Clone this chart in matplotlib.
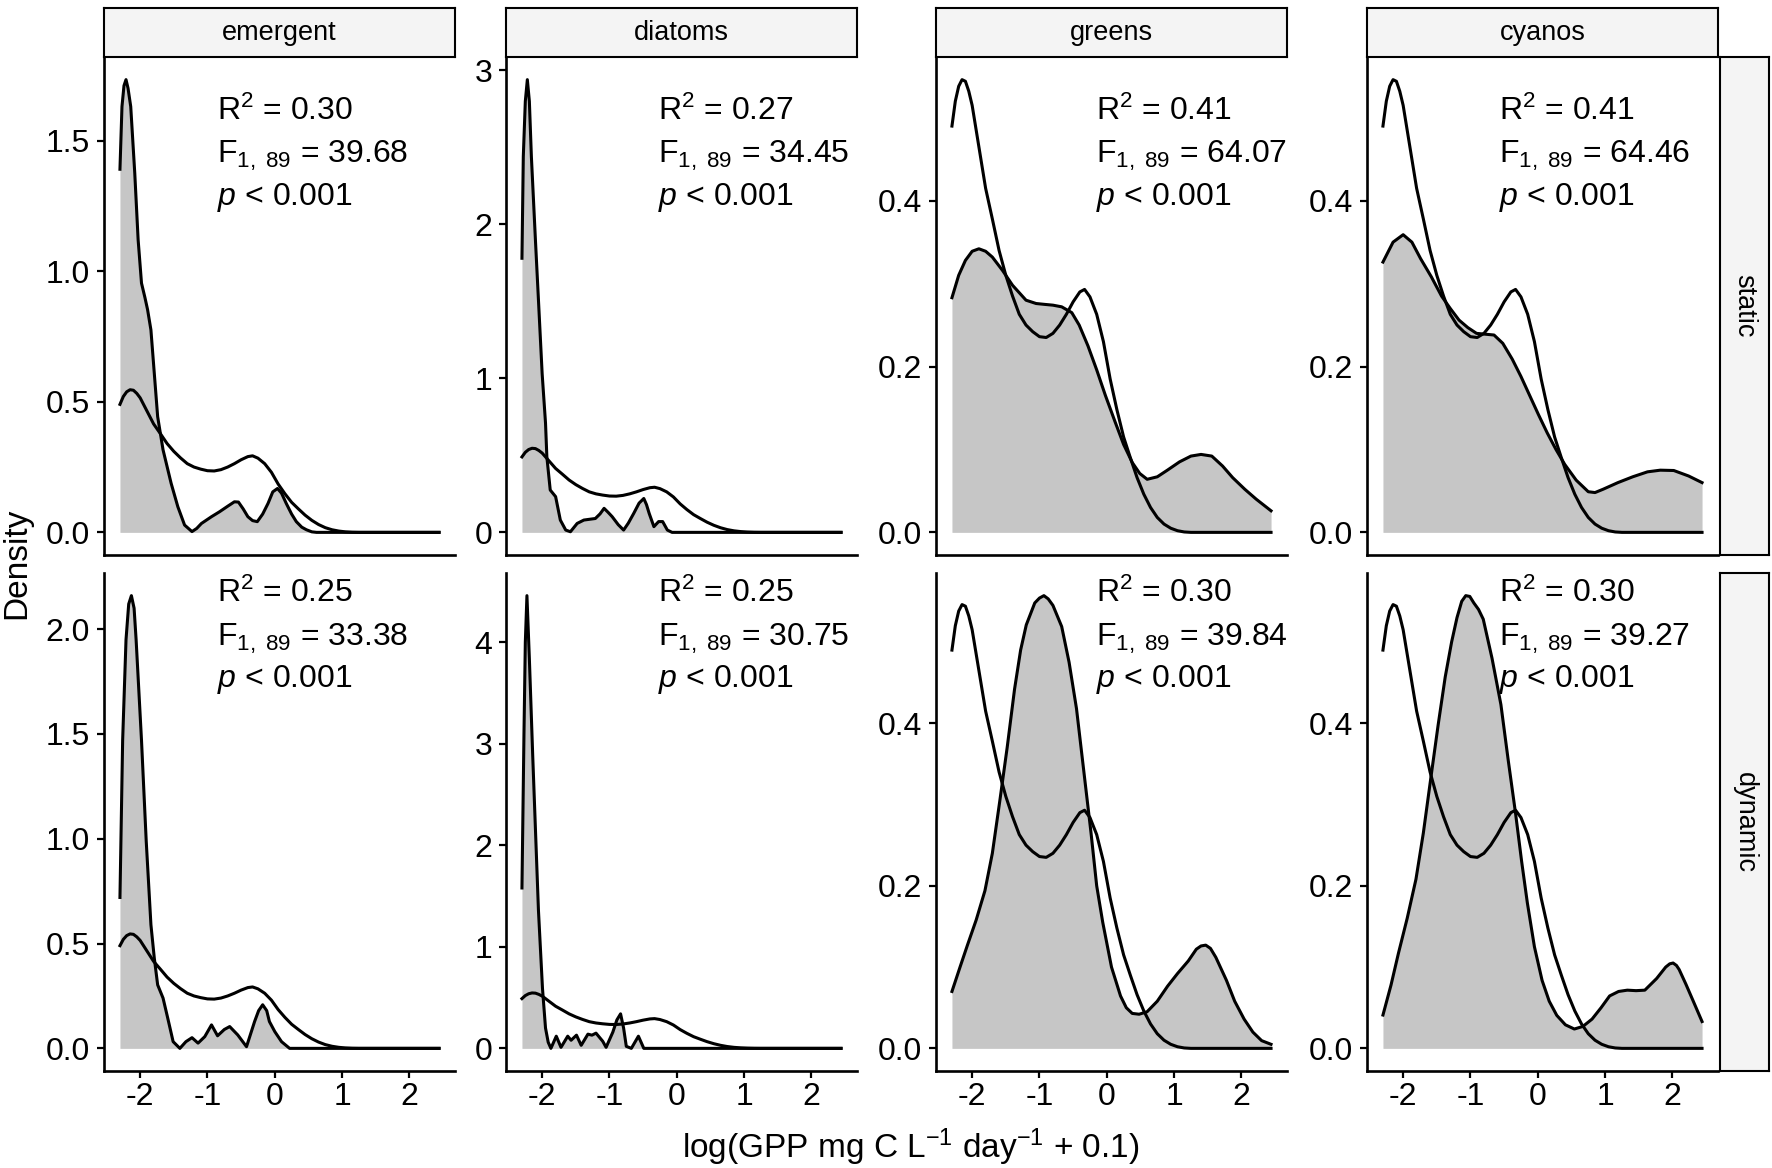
import matplotlib.pyplot as plt

plt.rcParams['font.family'] = ['Liberation Sans', 'DejaVu Sans']
plt.rcParams['mathtext.fontset'] = 'custom'
plt.rcParams['mathtext.rm'] = 'Liberation Sans'
plt.rcParams['mathtext.it'] = 'Liberation Sans:italic'
plt.rcParams['axes.unicode_minus'] = False

groups = ["emergent", "diatoms", "greens", "cyanos"]
models = ["static", "dynamic"]

# observed density (outline), the same in every panel
obs_x = [-2.30, -2.25, -2.20, -2.15, -2.10, -2.05, -2.00, -1.90, -1.80, -1.70, -1.60, -1.50,
         -1.40, -1.30, -1.20, -1.10, -1.00, -0.90, -0.80, -0.70, -0.60, -0.50, -0.40, -0.33,
         -0.25, -0.15, -0.05, 0.05, 0.15, 0.25, 0.35, 0.45, 0.55, 0.65, 0.75, 0.85, 0.95,
         1.05, 1.15, 1.25, 2.44]
obs_y = [0.490, 0.520, 0.538, 0.546, 0.544, 0.532, 0.515, 0.465, 0.415, 0.378, 0.340, 0.310,
         0.285, 0.263, 0.250, 0.242, 0.236, 0.235, 0.240, 0.250, 0.263, 0.278, 0.290, 0.293,
         0.284, 0.263, 0.230, 0.185, 0.148, 0.115, 0.090, 0.066, 0.046, 0.030, 0.018, 0.010, 0.005,
         0.002, 0.0005, 0.0, 0.0]

# predicted densities (grey fill)
emergent_static_x = [-2.30, -2.27, -2.24, -2.21, -2.18, -2.14, -2.08, -2.03, -1.98, -1.93, -1.89,
                     -1.84, -1.79, -1.74, -1.66, -1.54, -1.44, -1.34, -1.23, -1.16, -1.09, -0.94,
                     -0.82, -0.70, -0.60, -0.54, -0.47, -0.40, -0.33, -0.26, -0.18, -0.10, -0.03,
                     0.04, 0.10, 0.17, 0.25, 0.32, 0.40, 0.47, 0.55, 0.62, 2.44]
emergent_static_y = [1.39, 1.63, 1.71, 1.733, 1.70, 1.63, 1.375, 1.12, 0.954, 0.90, 0.853,
                     0.775, 0.609, 0.443, 0.316, 0.188, 0.098, 0.028, 0.003, 0.015, 0.034, 0.060,
                     0.079, 0.100, 0.117, 0.116, 0.090, 0.060, 0.045, 0.041, 0.070, 0.111, 0.155,
                     0.168, 0.150, 0.111, 0.070, 0.041, 0.020, 0.010, 0.002, 0.0, 0.0]

diatoms_static_x = [-2.30, -2.28, -2.25, -2.22, -2.19, -2.16, -2.10, -2.05, -2.00, -1.95, -1.93,
                    -1.88, -1.80, -1.73, -1.65, -1.58, -1.48, -1.38, -1.21, -1.14, -1.08, -1.02,
                    -0.96, -0.87, -0.79, -0.72, -0.64, -0.56, -0.49, -0.45, -0.41, -0.34, -0.27,
                    -0.21, -0.14, -0.07, 2.44]
diatoms_static_y = [1.78, 2.44, 2.80, 2.94, 2.80, 2.44, 1.90, 1.466, 1.03, 0.71, 0.49,
                    0.275, 0.232, 0.080, 0.015, 0.004, 0.058, 0.080, 0.090, 0.120, 0.156, 0.130,
                    0.102, 0.050, 0.015, 0.060, 0.123, 0.190, 0.220, 0.180, 0.123, 0.037, 0.070,
                    0.070, 0.015, 0.0, 0.0]

greens_static_x = [-2.30, -2.20, -2.10, -2.00, -1.90, -1.80, -1.70, -1.55, -1.40, -1.20, -1.05,
                   -0.93, -0.80, -0.67, -0.52, -0.41, -0.28, -0.15, -0.02, 0.12, 0.25, 0.38, 0.49,
                   0.60, 0.75, 0.90, 1.08, 1.25, 1.40, 1.56, 1.72, 1.87, 2.05, 2.22, 2.44]
greens_static_y = [0.283, 0.310, 0.328, 0.339, 0.342, 0.339, 0.332, 0.316, 0.298, 0.280, 0.276,
                   0.275, 0.274, 0.272, 0.265, 0.250, 0.225, 0.196, 0.165, 0.134, 0.106, 0.084, 0.071,
                   0.064, 0.067, 0.075, 0.085, 0.092, 0.094, 0.092, 0.080, 0.066, 0.052, 0.040, 0.026]

cyanos_static_x = [-2.30, -2.15, -2.00, -1.87, -1.74, -1.58, -1.43, -1.30, -1.17, -1.04, -0.91,
                   -0.78, -0.65, -0.52, -0.38, -0.25, -0.12, 0.01, 0.14, 0.27, 0.40, 0.57, 0.75,
                   0.85, 0.97, 1.19, 1.41, 1.63, 1.82, 2.02, 2.24, 2.44]
cyanos_static_y = [0.326, 0.350, 0.359, 0.350, 0.330, 0.308, 0.285, 0.270, 0.256, 0.247, 0.240,
                   0.239, 0.238, 0.228, 0.209, 0.188, 0.165, 0.142, 0.120, 0.100, 0.082, 0.063, 0.049,
                   0.048, 0.052, 0.060, 0.067, 0.073, 0.075, 0.0746, 0.068, 0.060]

emergent_dynamic_x = [-2.30, -2.26, -2.21, -2.17, -2.13, -2.09, -2.06, -1.98, -1.91, -1.84, -1.79,
                      -1.74, -1.66, -1.59, -1.51, -1.41, -1.32, -1.23, -1.14, -1.04, -0.94, -0.85,
                      -0.75, -0.67, -0.55, -0.42, -0.30, -0.24, -0.18, -0.12, -0.08, 0.00, 0.10,
                      0.22, 2.44]
emergent_dynamic_y = [0.72, 1.47, 1.95, 2.12, 2.16, 2.10, 1.95, 1.47, 0.99, 0.59, 0.431,
                      0.303, 0.240, 0.144, 0.032, 0.0, 0.032, 0.051, 0.025, 0.056, 0.112, 0.060,
                      0.090, 0.104, 0.064, 0.008, 0.128, 0.180, 0.208, 0.180, 0.128, 0.080, 0.032,
                      0.0, 0.0]

diatoms_dynamic_x = [-2.30, -2.27, -2.25, -2.226, -2.19, -2.14, -2.055, -1.995, -1.95, -1.91,
                     -1.87, -1.79, -1.72, -1.62, -1.57, -1.49, -1.42, -1.32, -1.26, -1.20, -1.10,
                     -1.05, -0.95, -0.89, -0.835, -0.79, -0.75, -0.675, -0.57, -0.49, 2.44]
diatoms_dynamic_y = [1.58, 3.10, 4.00, 4.46, 3.84, 2.88, 1.36, 0.59, 0.20, 0.06,
                     0.0, 0.12, 0.01, 0.12, 0.08, 0.13, 0.03, 0.14, 0.13, 0.15, 0.07,
                     0.01, 0.16, 0.28, 0.34, 0.20, 0.02, 0.0, 0.12, 0.0, 0.0]

greens_dynamic_x = [-2.30, -2.18, -2.07, -1.94, -1.81, -1.70, -1.59, -1.48, -1.37, -1.28, -1.196,
                    -1.07, -1.00, -0.934, -0.87, -0.80, -0.67, -0.56, -0.45, -0.34, -0.234, -0.15,
                    -0.06, 0.07, 0.204, 0.29, 0.378, 0.48, 0.598, 0.75, 0.903, 1.05, 1.21, 1.33,
                    1.40, 1.47, 1.54, 1.62, 1.778, 1.90, 2.04, 2.17, 2.30, 2.44]
greens_dynamic_y = [0.070, 0.100, 0.127, 0.158, 0.194, 0.240, 0.304, 0.370, 0.442, 0.490, 0.521,
                    0.548, 0.554, 0.557, 0.553, 0.545, 0.519, 0.475, 0.418, 0.340, 0.265, 0.200,
                    0.155, 0.100, 0.0645, 0.050, 0.043, 0.042, 0.045, 0.058, 0.0765, 0.092, 0.1075, 0.122,
                    0.126, 0.127, 0.123, 0.112, 0.0836, 0.058, 0.036, 0.020, 0.0095, 0.005]

cyanos_dynamic_x = [-2.30, -2.18, -2.07, -1.94, -1.81, -1.70, -1.59, -1.48, -1.375, -1.28, -1.20,
                    -1.13, -1.07, -1.01, -0.95, -0.88, -0.81, -0.68, -0.548, -0.44, -0.33, -0.24,
                    -0.155, -0.05, 0.064, 0.17, 0.282, 0.41, 0.543, 0.67, 0.806, 0.94, 1.067, 1.20,
                    1.33, 1.46, 1.59, 1.766, 1.90, 1.96, 2.01, 2.06, 2.10, 2.20, 2.31, 2.44]
cyanos_dynamic_y = [0.041, 0.078, 0.117, 0.160, 0.208, 0.265, 0.332, 0.398, 0.457, 0.500, 0.530,
                    0.550, 0.557, 0.556, 0.548, 0.540, 0.528, 0.480, 0.423, 0.355, 0.289, 0.230,
                    0.179, 0.125, 0.0836, 0.058, 0.0406, 0.029, 0.0238, 0.027, 0.036, 0.050, 0.0645, 0.070,
                    0.0716, 0.071, 0.0716, 0.086, 0.100, 0.104, 0.105, 0.102, 0.097, 0.079, 0.058, 0.033]

pred_x = [[emergent_static_x, diatoms_static_x, greens_static_x, cyanos_static_x],
          [emergent_dynamic_x, diatoms_dynamic_x, greens_dynamic_x, cyanos_dynamic_x]]
pred_y = [[emergent_static_y, diatoms_static_y, greens_static_y, cyanos_static_y],
          [emergent_dynamic_y, diatoms_dynamic_y, greens_dynamic_y, cyanos_dynamic_y]]

r2_values = [["0.30", "0.27", "0.41", "0.41"],
             ["0.25", "0.25", "0.30", "0.30"]]
f_values = [["39.68", "34.45", "64.07", "64.46"],
            ["33.38", "30.75", "39.84", "39.27"]]

x_ticks = [-2, -1, 0, 1, 2]
x_tick_labels = ["-2", "-1", "0", "1", "2"]
y_ticks = [[[0, 0.5, 1.0, 1.5], [0, 1, 2, 3], [0, 0.2, 0.4], [0, 0.2, 0.4]],
           [[0, 0.5, 1.0, 1.5, 2.0], [0, 1, 2, 3, 4], [0, 0.2, 0.4], [0, 0.2, 0.4]]]
y_tick_labels = [[["0.0", "0.5", "1.0", "1.5"], ["0", "1", "2", "3"], ["0.0", "0.2", "0.4"], ["0.0", "0.2", "0.4"]],
                 [["0.0", "0.5", "1.0", "1.5", "2.0"], ["0", "1", "2", "3", "4"], ["0.0", "0.2", "0.4"], ["0.0", "0.2", "0.4"]]]

W, H = 1772, 1168
col_left = [104, 506, 936, 1367]
panel_w = 351
row_top = [57, 573]
panel_h = 498
strip_h = 49
text_x = [0.321, 0.432, 0.457, 0.377]
text_y = [[0.873, 0.787, 0.702], [0.941, 0.854, 0.771]]

fill_col = "#c6c6c6"
strip_col = "#f4f4f4"
lw = 2.2
fs_tick = 23
fs_note = 23
fs_lab = 24
fs_strip = 19.5

fig = plt.figure(figsize=(W / 100, H / 100), dpi=100)

for r in range(2):
    for c in range(4):
        ax = fig.add_axes([col_left[c] / W, 1 - (row_top[r] + panel_h) / H, panel_w / W, panel_h / H])
        px = pred_x[r][c]
        py = pred_y[r][c]
        ax.fill_between(px, 0, py, color=fill_col, linewidth=0)
        ax.plot(px, py, color="black", linewidth=lw, solid_joinstyle="round")
        ax.plot(obs_x, obs_y, color="black", linewidth=lw, solid_joinstyle="round")

        xmin = min(min(px), min(obs_x))
        xmax = max(max(px), max(obs_x))
        top = max(max(py), max(obs_y))
        ax.set_xlim(xmin - 0.05 * (xmax - xmin), xmax + 0.05 * (xmax - xmin))
        ax.set_ylim(-0.05 * top, 1.05 * top)

        ax.set_xticks(x_ticks)
        ax.set_xticklabels(x_tick_labels)
        ax.set_yticks(y_ticks[r][c])
        ax.set_yticklabels(y_tick_labels[r][c])
        ax.tick_params(labelsize=fs_tick, length=5, width=1.6, color="black", labelcolor="black")
        ax.tick_params(axis="x", pad=3)
        ax.tick_params(axis="y", pad=5)
        if r == 0:
            ax.tick_params(axis="x", bottom=False, labelbottom=False)
        ax.spines["top"].set_visible(False)
        ax.spines["right"].set_visible(False)
        ax.spines["left"].set_linewidth(1.9)
        ax.spines["bottom"].set_linewidth(1.9)
        ax.patch.set_alpha(0)

        ax.text(text_x[c], text_y[r][0], r"R$^2$ = " + r2_values[r][c], transform=ax.transAxes,
                fontsize=fs_note, va="baseline", ha="left")
        ax.text(text_x[c], text_y[r][1], r"F$_{1,\ 89}$ = " + f_values[r][c], transform=ax.transAxes,
                fontsize=fs_note, va="baseline", ha="left")
        ax.text(text_x[c], text_y[r][2], r"$p$ < 0.001", transform=ax.transAxes,
                fontsize=fs_note, va="baseline", ha="left")

# strips on top
for c in range(4):
    sa = fig.add_axes([col_left[c] / W, 1 - row_top[0] / H, panel_w / W, strip_h / H])
    sa.set_facecolor(strip_col)
    sa.set_xticks([])
    sa.set_yticks([])
    for s in sa.spines.values():
        s.set_linewidth(1.5)
    sa.text(0.5, 0.5, groups[c], ha="center", va="center", fontsize=fs_strip, transform=sa.transAxes)

# strips on right
for r in range(2):
    sa = fig.add_axes([1720 / W, 1 - (row_top[r] + panel_h) / H, 49 / W, panel_h / H])
    sa.set_facecolor(strip_col)
    sa.set_xticks([])
    sa.set_yticks([])
    for s in sa.spines.values():
        s.set_linewidth(1.5)
    sa.text(0.5, 0.5, models[r], ha="center", va="center", fontsize=fs_strip, rotation=-90,
            transform=sa.transAxes)

fig.text(17 / W, 1 - 563 / H, "Density", rotation=90, ha="center", va="center", fontsize=fs_lab)
fig.text(911 / W, 1 - 1147 / H, r"log(GPP mg C L$^{-1}$ day$^{-1}$ + 0.1)", ha="center", va="center",
         fontsize=fs_lab)

fig.savefig("out.png", dpi=100)
plt.close()
